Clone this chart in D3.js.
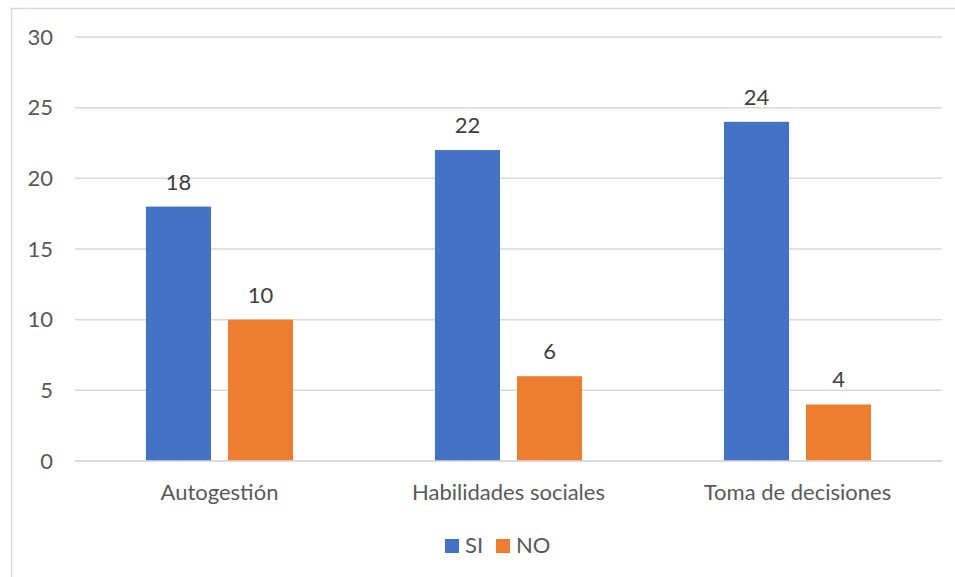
<!DOCTYPE html>
<html><head><meta charset="utf-8">
<script src="https://cdn.jsdelivr.net/npm/d3@7"></script>
<style>body{margin:0;background:#fff}svg{display:block}</style>
</head><body>
<svg id="c" width="955" height="577"></svg>
<script>
const categories = ["Autogestión", "Habilidades sociales", "Toma de decisiones"];
const seriesNames = ["SI", "NO"];
const siValues = [18, 22, 24];
const noValues = [10, 6, 4];
const yTicks = [0, 5, 10, 15, 20, 25, 30];
const colors = {SI: "#4472C4", NO: "#ED7D31"};

(function () {
const font = "Lato, 'Open Sans', sans-serif";
const svg = d3.select("#c");
svg.append("rect").attr("x", 11.5).attr("y", 8.5).attr("width", 960).attr("height", 600)
  .attr("fill", "#fff").attr("stroke", "#d9d9d9").attr("stroke-width", 1.5);

const pl = 75, pr = 942, pt = 37, pb = 461;
const x = d3.scaleBand().domain(categories).range([pl, pr]).paddingInner(0.491).paddingOuter(0.2455);
const xs = d3.scaleBand().domain(seriesNames).range([0, x.bandwidth()]).paddingInner(0.207).paddingOuter(0);
const y = d3.scaleLinear().domain([0, 30]).range([pb, pt]);

svg.append("g").selectAll("line").data(yTicks).join("line")
  .attr("x1", pl).attr("x2", pr)
  .attr("y1", d => y(d)).attr("y2", d => y(d))
  .attr("stroke", "#d9d9d9").attr("stroke-width", 1.5);

const yAxis = d3.axisLeft(y).tickValues(yTicks).tickSize(0).tickPadding(0);
const ya = svg.append("g").attr("transform", `translate(53,0)`).call(yAxis);
ya.select(".domain").remove();
ya.selectAll("text").attr("fill", "#595959").style("font-family", font).style("font-size", "22px");

const data = categories.map((c, i) => ({cat: c, vals: [{s: "SI", v: siValues[i]}, {s: "NO", v: noValues[i]}]}));
const groups = svg.append("g").selectAll("g").data(data).join("g")
  .attr("transform", d => `translate(${x(d.cat)},0)`);
groups.selectAll("rect").data(d => d.vals).join("rect")
  .attr("x", d => xs(d.s)).attr("width", xs.bandwidth())
  .attr("y", d => y(d.v)).attr("height", d => y(0) - y(d.v))
  .attr("fill", d => colors[d.s]);
groups.selectAll("text").data(d => d.vals).join("text")
  .attr("x", d => xs(d.s) + xs.bandwidth() / 2)
  .attr("y", d => y(d.v) - 17)
  .attr("text-anchor", "middle").attr("fill", "#404040")
  .style("font-family", font).style("font-size", "22px")
  .text(d => d.v);

svg.append("line").attr("x1", pl).attr("x2", pr).attr("y1", y(0)).attr("y2", y(0))
  .attr("stroke", "#d9d9d9").attr("stroke-width", 1.5);

const xAxis = d3.axisBottom(x).tickSize(0).tickPadding(0);
const xa = svg.append("g").attr("transform", `translate(0,${pb})`).call(xAxis);
xa.select(".domain").remove();
xa.selectAll("text").attr("dy", null).attr("y", 39).attr("fill", "#595959")
  .style("font-family", font).style("font-size", "22px");

const legendX = [445, 496];
const lg = svg.append("g").selectAll("g").data(seriesNames).join("g")
  .attr("transform", (d, i) => `translate(${legendX[i]},539)`);
lg.append("rect").attr("width", 14).attr("height", 14).attr("fill", d => colors[d]);
lg.append("text").attr("x", 20).attr("y", 14).attr("fill", "#595959")
  .style("font-family", font).style("font-size", "22px").text(d => d);
})();
</script>
</body></html>
